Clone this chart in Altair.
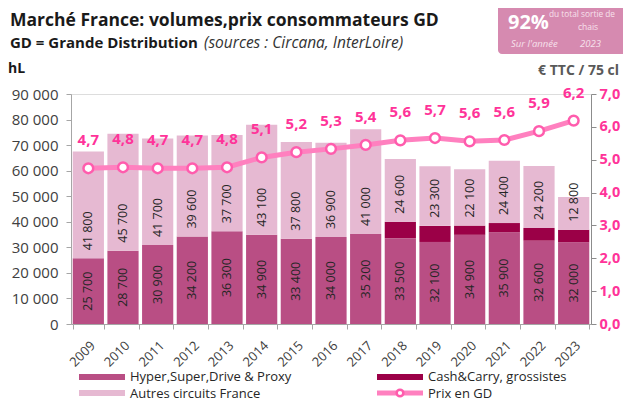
import altair as alt
import pandas as pd

years = [str(y) for y in range(2009, 2024)]
hyper = [25700, 28700, 30900, 34200, 36300, 34900, 33400, 34000, 35200, 33500, 32100, 34900, 35900, 32600, 32000]
cash = [0, 0, 0, 0, 0, 0, 0, 0, 0, 6500, 6300, 3600, 3600, 5000, 4900]
autres = [41800, 45700, 41700, 39600, 37700, 43100, 37800, 36900, 41000, 24600, 23300, 22100, 24400, 24200, 12800]
price = [4.74, 4.77, 4.74, 4.74, 4.77, 5.07, 5.23, 5.33, 5.45, 5.59, 5.66, 5.56, 5.60, 5.87, 6.19]
price_labels = ["4,7", "4,8", "4,7", "4,7", "4,8", "5,1", "5,2", "5,3", "5,4", "5,6", "5,7", "5,6", "5,6", "5,9", "6,2"]

series = ["Hyper,Super,Drive & Proxy", "Cash&Carry, grossistes", "Autres circuits France"]
colors = ["#B94E84", "#9B0047", "#E6B9D2"]

FONT = "Open Sans"
PINK = "#FF3399"
LINE = "#FF80BF"

def fmt(v):
    return f"{v:,}".replace(",", " ")

rows = []
for i, y in enumerate(years):
    for k, (s, vals) in enumerate(zip(series, [hyper, cash, autres])):
        rows.append({"year": y, "series": s, "value": vals[i], "ord": k})
df_long = pd.DataFrame(rows)

df = pd.DataFrame({
    "year": years,
    "hyper_mid": [h / 2 for h in hyper],
    "hyper_lbl": [fmt(h) for h in hyper],
    "autres_base": [h + c for h, c in zip(hyper, cash)],
    "autres_lbl": [fmt(a) for a in autres],
    "price": price,
    "price_lbl": price_labels,
})

W, H = 520, 230
xaxis = alt.Axis(labelAngle=315, labelFontSize=13, labelColor="#404040",
                 domainColor="#A6A6A6", tickColor="#A6A6A6", tickSize=5,
                 tickBand="extent", labelPadding=10, labelFont=FONT, title=None)
xenc = alt.X("year:N", sort=years, title=None,
             scale=alt.Scale(paddingInner=0.1, paddingOuter=0.05), axis=xaxis)

lscale = alt.Scale(domain=[0, 90000])
rscale = alt.Scale(domain=[0, 7])

bars = alt.Chart(df_long).mark_bar().encode(
    x=xenc,
    y=alt.Y("value:Q", stack="zero", scale=lscale, title=None,
            axis=alt.Axis(values=list(range(0, 90001, 10000)),
                          labelExpr="replace(format(datum.value, ',.0f'), ',', ' ')",
                          labelFontSize=15, labelColor="#404040", labelFont=FONT,
                          domainColor="#A6A6A6", tickColor="#A6A6A6", tickSize=5,
                          labelPadding=8, grid=False)),
    color=alt.Color("series:N", scale=alt.Scale(domain=series, range=colors), legend=None),
    order=alt.Order("ord:Q"),
)

hyper_txt = alt.Chart(df).mark_text(angle=270, fontSize=12.5, color="#262626", font=FONT,
                                    align="center", baseline="middle").encode(
    x=xenc, y=alt.Y("hyper_mid:Q", scale=lscale, axis=None), text="hyper_lbl:N")

autres_txt = alt.Chart(df).mark_text(angle=270, fontSize=12.5, color="#262626", font=FONT,
                                     align="left", baseline="middle", dx=8).encode(
    x=xenc, y=alt.Y("autres_base:Q", scale=lscale, axis=None), text="autres_lbl:N")

line = alt.Chart(df).mark_line(color=LINE, strokeWidth=5).encode(
    x=xenc,
    y=alt.Y("price:Q", scale=rscale, title=None,
            axis=alt.Axis(orient="right", values=list(range(0, 8)),
                          labelExpr="replace(format(datum.value, '.1f'), '.', ',')",
                          labelFontSize=14.5, labelColor=PINK, labelFontWeight="bold",
                          labelFont=FONT, domainColor="#8C8C8C", tickColor="#8C8C8C",
                          tickSize=5, labelPadding=3, grid=False)))

pts = alt.Chart(df).mark_point(shape="circle", size=95, fill="white", fillOpacity=1,
                               stroke="#FF5CAD", strokeWidth=2.5, opacity=1).encode(
    x=xenc, y=alt.Y("price:Q", scale=rscale, axis=None))

plbl = alt.Chart(df).mark_text(dy=-28, fontSize=15, fontWeight="bold", color=PINK, font=FONT).encode(
    x=xenc, y=alt.Y("price:Q", scale=rscale, axis=None), text="price_lbl:N")

one = pd.DataFrame({"a": [0]})

def txt(t, x, y, size=14, weight="normal", style="normal", color="#1a1a1a", align="left",
        baseline="middle"):
    return alt.Chart(one).mark_text(text=t, fontSize=size, fontWeight=weight, fontStyle=style,
                                    color=color, align=align, baseline=baseline, font=FONT).encode(
        x=alt.value(x), y=alt.value(y))

def rect(x, x2, y, y2, color, radius=0):
    return alt.Chart(one).mark_rect(color=color, cornerRadius=radius).encode(
        x=alt.value(x), x2=alt.value(x2), y=alt.value(y), y2=alt.value(y2))

annot = [
    txt("Marché France: volumes,prix consommateurs GD", -61, -68, size=17.5, weight="bold",
        baseline="alphabetic"),
    txt("GD = Grande Distribution", -61, -46, size=15, weight="bold", baseline="alphabetic"),
    txt("(sources : Circana, InterLoire)", 133, -46, size=15.5, style="italic", color="#333333",
        baseline="alphabetic"),
    txt("hL", -63, -25, size=14, weight="bold"),
    txt("€ TTC / 75 cl", 548, -23, size=14, weight="bold", color="#595959", align="right"),
    rect(427, 560, -90, -40, "#D68AB0", 4),
    txt("92%", 437, -71, size=20, weight="bold", color="white"),
    txt("du total sortie de", 478, -79, size=8.3, color="#F7E1EC"),
    txt("chais", 517, -67, size=8.5, color="#F7E1EC", align="center"),
    txt("Sur l'année", 440, -50, size=9.5, style="italic", color="#F7E1EC"),
    txt("2023", 509, -50, size=9.5, style="italic", color="#F7E1EC"),
    # legend
    rect(8, 54, 280, 286, colors[0]),
    txt(series[0], 59, 287, size=13, color="#262626", baseline="alphabetic"),
    rect(8, 54, 296, 302, colors[2]),
    txt(series[2], 59, 303.5, size=13, color="#262626", baseline="alphabetic"),
    rect(306, 352, 280, 286, colors[1]),
    txt(series[1], 357, 287, size=13, color="#262626", baseline="alphabetic"),
    alt.Chart(one).mark_rule(color=LINE, strokeWidth=5).encode(
        x=alt.value(306), x2=alt.value(352), y=alt.value(299)),
    alt.Chart(one).mark_point(shape="circle", size=45, fill="white", fillOpacity=1,
                              stroke="#FF5CAD", strokeWidth=2.5, opacity=1).encode(
        x=alt.value(329), y=alt.value(299)),
    txt("Prix en GD", 357, 303.5, size=13, color="#262626", baseline="alphabetic"),
]

chart = alt.layer(bars, hyper_txt, autres_txt, line, pts, plbl, *annot).resolve_scale(
    y="independent"
).properties(
    width=W, height=H,
    padding={"left": 63, "top": 86, "right": 32, "bottom": 78},
    autosize=alt.AutoSizeParams(type="none"),
).configure_view(stroke=None).configure(font=FONT)

chart.save("out.html", embed_options={"renderer": "svg", "actions": False})
